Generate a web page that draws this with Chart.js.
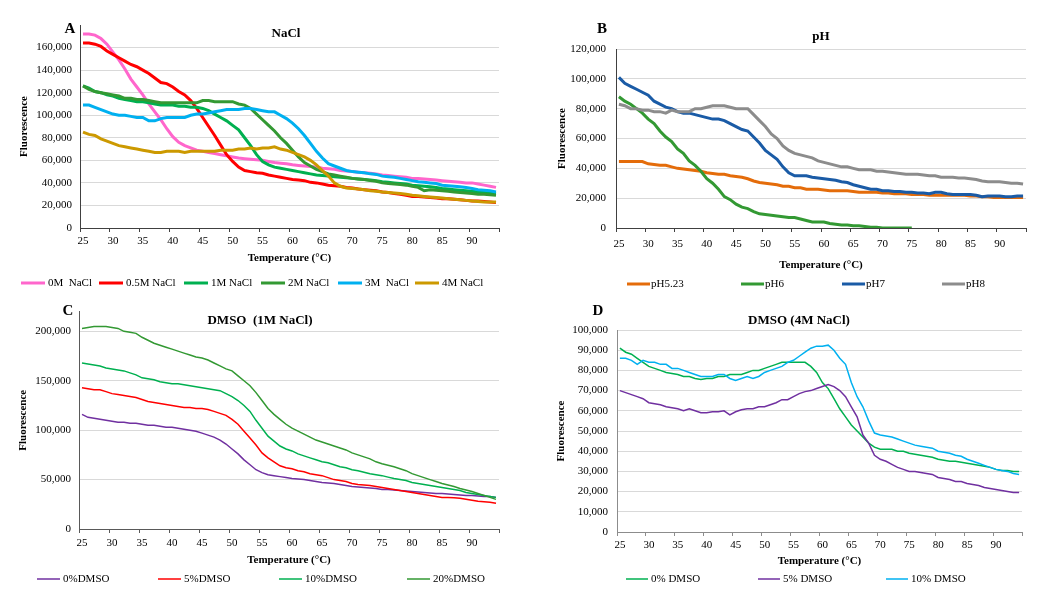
<!DOCTYPE html>
<html>
<head>
<meta charset="utf-8">
<title>Melt curves</title>
<script src="https://cdn.jsdelivr.net/npm/chart.js@4.4.0/dist/chart.umd.min.js"></script>
<style>
    body { margin: 0; background: #fff; }
    .panel { position: absolute; }
</style>
</head>
<body>
<div class="panel" style="left:0;top:0"><canvas id="chartA" width="523" height="297"></canvas></div>
<div class="panel" style="left:523px;top:0"><canvas id="chartB" width="524" height="297"></canvas></div>
<div class="panel" style="left:0;top:297px"><canvas id="chartC" width="523" height="302"></canvas></div>
<div class="panel" style="left:523px;top:297px"><canvas id="chartD" width="524" height="302"></canvas></div>
<script>
// Temperature categories (°C)
const temps = [25, 26, 27, 28, 29, 30, 31, 32, 33, 34, 35, 36, 37, 38, 39, 40, 41, 42, 43, 44,
    45, 46, 47, 48, 49, 50, 51, 52, 53, 54, 55, 56, 57, 58, 59, 60, 61, 62, 63, 64,
    65, 66, 67, 68, 69, 70, 71, 72, 73, 74, 75, 76, 77, 78, 79, 80, 81, 82, 83, 84,
    85, 86, 87, 88, 89, 90, 91, 92, 93, 94];
// Tick marks sit half a step before each label, like the Excel category axis
const xTickMarks = [24.5, 29.5, 34.5, 39.5, 44.5, 49.5, 54.5, 59.5, 64.5, 69.5, 74.5, 79.5, 84.5, 89.5, 94.5];
const xTickLabels = ['25', '30', '35', '40', '45', '50', '55', '60', '65', '70', '75', '80', '85', '90', ''];

// Fluorescence values, in thousands
// A - NaCl
const nacl0M = [172, 172, 171, 168, 163, 156, 149, 141, 132, 125, 118, 110, 103, 96, 88, 81, 76, 73, 71, 69,
    68, 67, 66, 65, 64, 63, 62, 61.5, 61, 60.5, 60, 59, 58, 57.5, 57, 56, 55.5, 55, 54.5, 54,
    53, 52.5, 52, 51, 50.5, 50, 49.5, 49, 48.5, 48, 47, 46.5, 46, 45.5, 45, 44, 44, 43.5, 43, 42.5,
    42, 41.5, 41, 40.5, 40, 40, 39, 38, 37, 36];
const nacl05M = [164, 164, 163, 161, 157, 154, 151, 148, 145, 143, 140, 137, 133, 129, 128, 125, 121, 118, 113, 106,
    98, 90, 82, 73.5, 65, 59, 54, 51, 50, 49, 48.5, 47, 46, 45, 44, 43, 42.5, 42, 40.5, 40,
    39, 38, 37.5, 37, 36, 35.5, 34.5, 34, 33.5, 33, 32, 31.5, 30.5, 30, 29, 28, 28, 27.5, 27, 26.5,
    26, 26, 25.5, 25, 24.5, 24, 24, 23.5, 23, 22.5];
const nacl1M = [126, 124, 121, 120, 118, 117, 115, 114, 113, 112, 112, 111, 110, 109, 109, 109, 108, 108, 107, 107,
    106, 104, 101, 98, 95, 91, 87, 80, 73, 65, 59, 56, 54, 53, 52, 51, 50, 49, 48, 47,
    46.5, 46, 45.5, 45, 44.5, 44, 43.5, 43, 42.5, 42, 41, 40.5, 40, 39.5, 39, 38, 37.5, 37, 36.5, 36,
    35, 34.5, 34, 33.5, 33, 32.5, 32, 31.5, 31, 30.5];
const nacl2M = [126, 123, 121, 120, 119, 118, 117, 115, 115, 114, 114, 113, 112, 111, 111, 111, 111, 111, 111, 111,
    113, 113, 112, 112, 112, 112, 110, 109, 106, 101, 96, 91, 86, 80, 75, 69, 63, 58, 55, 52,
    50, 48, 47, 46, 45, 44, 43.5, 43, 42, 41.5, 40, 39.5, 39, 38.5, 38, 37, 36, 33, 34, 33.5,
    33, 32.5, 32, 31.5, 31, 30.5, 30, 30, 29.5, 29];
const nacl3M = [109, 109, 107, 105, 103, 101, 100, 100, 99, 98, 98, 95, 95, 97, 98, 98, 98, 98, 100, 101,
    101, 102, 103, 104, 105, 105, 105, 106, 106, 105, 104, 103, 103, 100, 97, 93, 88, 82, 75, 68,
    62, 57, 55, 53, 51, 50, 49.5, 49, 48, 47.5, 46, 45.5, 45, 44, 43, 42, 41, 40.5, 40, 39.5,
    38, 37.5, 37, 36.5, 36, 35, 34, 33.5, 33, 32];
const nacl4M = [85, 83, 82, 79, 77, 75, 73, 72, 71, 70, 69, 68, 67, 67, 68, 68, 68, 67, 68, 68,
    68, 68, 68, 69, 69, 69, 70, 70, 71, 70, 71, 71, 72, 70, 69, 67, 65, 63, 60, 56,
    51, 46, 40, 37, 35.5, 35, 34.5, 34, 33, 32.5, 32, 31.5, 31, 30.5, 30, 29, 28.5, 28, 27.5, 27,
    26.5, 26, 25.5, 25, 24.5, 24, 23.5, 23, 23, 23];

// B - pH
const ph523 = [44.5, 44.5, 44.5, 44.5, 44.5, 43, 42.5, 42, 42, 41, 40, 39.5, 39, 38.5, 38, 37, 36.5, 36, 36, 35,
    34.5, 34, 33, 31.5, 30.5, 30, 29.5, 29, 28, 28, 27, 27, 26, 26, 26, 25.5, 25, 25, 25, 25,
    24.5, 24, 24, 24, 24, 23.5, 23.5, 23, 23, 23, 22.5, 22.5, 22.5, 22, 22, 22, 22, 22, 22, 22,
    21.5, 21.5, 21, 21, 20.5, 20.5, 20.5, 20.5, 20.5, 20.5];
const ph6 = [88, 85, 83, 80, 77, 73, 70, 65, 61, 58, 53, 50, 45, 42, 38, 33, 30, 26, 21, 19,
    16, 14, 13, 11, 9.5, 9, 8.5, 8, 7.5, 7, 7, 6, 5, 4, 4, 4, 3, 2.5, 2, 2,
    1.5, 1.5, 1, 0.5, 0.5, 0, 0, 0, 0, 0, 0, null, null, null, null, null, null, null, null, null,
    null, null, null, null, null, null, null, null, null, null];
const ph7 = [101, 97, 95, 93, 91, 89, 85, 83, 81, 80, 78, 77, 77, 76, 75, 74, 73, 73, 72, 70,
    68, 66, 65, 61, 57, 52, 49, 46, 41, 37, 35, 35, 35, 34, 33.5, 33, 32.5, 32, 31, 30.5,
    29, 28, 27, 26, 26, 25, 25, 24.5, 24.5, 24, 24, 23.5, 23.5, 23, 24, 24, 23, 22.5, 22.5, 22.5,
    22.5, 22, 21, 21.5, 21.5, 21.5, 21, 21, 21.5, 21.5];
const ph8 = [83, 82, 80, 80, 79, 79, 78, 78, 77, 79, 78, 78, 78, 80, 80, 81, 82, 82, 82, 81,
    80, 80, 80, 76, 72, 68, 63, 60, 55, 52, 50, 49, 48, 47, 45, 44, 43, 42, 41, 41,
    40, 39, 39, 39, 38, 38, 37.5, 37, 36.5, 36, 36, 36, 35.5, 35, 35, 34, 34, 34, 33.5, 33.5,
    33, 32.5, 31.5, 31, 31, 31, 30.5, 30, 30, 29.5];

// C - DMSO (1M NaCl)
const c_dmso0 = [116, 113, 112, 111, 110, 109, 108, 108, 107, 107, 106, 105, 105, 104, 103, 103, 102, 101, 100, 99,
    97, 95, 93, 90, 86, 81, 76, 70, 65, 60, 57, 55, 54, 53, 52, 51, 50.5, 50, 49, 48,
    47, 46.5, 46, 45, 44, 43, 42.5, 42, 41.5, 41, 40, 40, 39.5, 39, 38.5, 38, 37.5, 37, 36.5, 36,
    36, 35.5, 35, 34.5, 34, 34, 33.5, 33, 33, 32];
const c_dmso5 = [143, 142, 141, 141, 139, 137, 136, 135, 134, 133, 131, 129, 128, 127, 126, 125, 124, 123, 123, 122,
    122, 121, 119, 117, 115, 111, 106, 99, 92, 85, 77, 72, 68, 64, 62, 61, 59, 58, 56, 55,
    54, 52, 50, 49, 48, 46, 45, 44.5, 44, 43, 42, 41, 40, 39, 38, 37, 36, 35, 34, 33,
    32, 32, 31.5, 31, 30, 29, 28, 27.5, 27, 26];
const c_dmso10 = [168, 167, 166, 165, 163, 162, 161, 160, 158, 156, 153, 152, 151, 149, 148, 147, 147, 146, 145, 144,
    143, 142, 141, 140, 137, 134, 130, 125, 119, 110, 102, 94, 89, 84, 81, 79, 76, 74, 72, 70,
    68, 67, 65, 63, 62, 60, 59, 57.5, 56, 55, 54, 52.5, 51, 50, 49, 47, 46, 45, 44, 43,
    42, 41, 40, 39, 37, 36, 35, 34, 33, 32];
const c_dmso20 = [203, 204, 205, 205, 205, 204, 203, 200, 199, 198, 194, 191, 188, 186, 184, 182, 180, 178, 176, 174,
    173, 171, 168, 165, 162, 160, 155, 150, 145, 138, 130, 122, 116, 111, 106, 102, 99, 96, 93, 90,
    88, 86, 84, 82, 80, 77, 75, 73, 71, 68, 66, 64.5, 63, 61, 59, 56, 54, 52, 50, 48,
    46, 44.5, 43, 41, 39.5, 38, 36, 34, 32, 30];

// D - DMSO (4M NaCl)
const d_dmso0 = [91, 89, 88, 86, 84, 82, 81, 80, 79, 78.5, 78, 77, 77, 76, 75.5, 76, 76, 77, 77, 78,
    78, 78, 79, 80, 80, 81, 82, 83, 84, 84, 84, 84, 84, 82, 79, 74, 71, 66, 61, 57,
    53, 50, 47, 44, 42, 41, 41, 41, 40, 40, 39, 38.5, 38, 37.5, 37, 36, 35.5, 35, 35, 34.5,
    34, 33.5, 33, 32.5, 32, 31, 30.5, 30.5, 30, 30];
const d_dmso5 = [70, 69, 68, 67, 66, 64, 63.5, 63, 62, 61.5, 61, 60, 61, 60, 59, 59, 59.5, 59.5, 60, 58,
    59.5, 60.5, 61, 61, 62, 62, 63, 64, 65.5, 65.5, 67, 68.5, 69.5, 70, 71, 72, 73, 72, 70, 67,
    62, 57, 48, 44, 38, 36, 35, 33.5, 32, 31, 30, 30, 29.5, 29, 28.5, 27, 26.5, 26, 25, 25,
    24, 23.5, 23, 22, 21.5, 21, 20.5, 20, 19.5, 19.5];
const d_dmso10 = [86, 86, 85, 83, 85, 84, 84, 83, 83, 81, 81, 80, 79, 78, 77, 77, 77, 78, 78, 76,
    75, 76, 77, 76, 77, 79, 80, 81, 82, 84, 85, 87, 89, 91, 92, 92, 92.5, 90, 86, 83,
    74, 67, 62, 55, 49, 48, 47.5, 47, 46, 45, 44, 43, 42.5, 42, 41.5, 40, 39.5, 39, 38, 37.5,
    36, 35, 34, 33, 32, 31, 30.5, 30, 29, 28.5];

// Y axis ticks
const yTicksA = [0, 20000, 40000, 60000, 80000, 100000, 120000, 140000, 160000];
const yTicksB = [0, 20000, 40000, 60000, 80000, 100000, 120000];
const yTicksC = [0, 50000, 100000, 150000, 200000];
const yTicksD = [0, 10000, 20000, 30000, 40000, 50000, 60000, 70000, 80000, 90000, 100000];

const gridColor = '#d9d9d9';
const serif = '"Liberation Serif", "Times New Roman", serif';

Chart.defaults.font.family = serif;
Chart.defaults.color = '#000';

// Legend drawn in evenly spread columns like the original
const spreadLegend = {
    id: 'spreadLegend',
    afterDraw(chart, args, opts) {
        const ctx = chart.ctx;
        ctx.save();
        ctx.font = '11px ' + serif;
        ctx.textBaseline = 'middle';
        ctx.textAlign = 'left';
        chart.data.datasets.forEach((ds, i) => {
            const x = opts.xs[i];
            ctx.strokeStyle = ds.borderColor;
            ctx.lineWidth = opts.lineWidth;
            ctx.beginPath();
            ctx.moveTo(x, opts.y);
            ctx.lineTo(x + opts.lineLen, opts.y);
            ctx.stroke();
            ctx.fillStyle = '#000';
            ctx.fillText(ds.label, x + opts.lineLen + opts.gap, opts.y);
        });
        ctx.restore();
    }
};

// Panel letter and chart title
const panelText = {
    id: 'panelText',
    afterDraw(chart, args, opts) {
        const ctx = chart.ctx;
        ctx.save();
        ctx.fillStyle = '#000';
        ctx.textAlign = 'center';
        ctx.textBaseline = 'middle';
        ctx.font = 'bold 15px ' + serif;
        ctx.fillText(opts.letter, opts.letterX, opts.letterY);
        ctx.font = 'bold 13px ' + serif;
        ctx.fillText(opts.title, opts.titleX, opts.titleY);
        ctx.restore();
    }
};

function toPoints(values) {
    return temps.map((t, i) => ({ x: t, y: values[i] == null ? null : values[i] * 1000 }));
}

function buildDatasets(series, width) {
    return series.map((s, i) => ({
        label: s.label,
        data: toPoints(s.values),
        borderColor: s.color,
        backgroundColor: s.color,
        borderWidth: width,
        pointRadius: 0,
        tension: 0,
        spanGaps: false,
        order: -i
    }));
}

function createPanel(id, p) {
    const ctx = document.getElementById(id);
    new Chart(ctx, {
        type: 'line',
        data: { datasets: buildDatasets(p.series, p.lineWidth) },
        plugins: [spreadLegend, panelText],
        options: {
            responsive: false,
            animation: false,
            layout: { padding: { left: 0, top: p.top, right: p.right, bottom: 0 } },
            plugins: {
                legend: { display: false },
                tooltip: { enabled: false },
                spreadLegend: p.legend,
                panelText: p.text
            },
            scales: {
                x: {
                    type: 'linear',
                    min: 24.5,
                    max: 94.5,
                    afterBuildTicks: s => { s.ticks = xTickMarks.map(v => ({ value: v })); },
                    afterFit: s => { s.height = p.xHeight; },
                    grid: { drawOnChartArea: false, tickLength: 4, color: p.axisColor },
                    border: { color: p.axisColor },
                    ticks: {
                        padding: p.xPad, maxRotation: 0, autoSkip: false, labelOffset: 3, font: { size: 11 },
                        callback: (v, i) => xTickLabels[i]
                    },
                    title: { display: true, text: 'Temperature (°C)', font: { size: 11, weight: 'bold' }, padding: { top: 0, bottom: p.xTitlePad } }
                },
                y: {
                    min: 0,
                    max: p.yMax,
                    afterBuildTicks: s => { s.ticks = p.yTicks.map(v => ({ value: v })); },
                    afterFit: s => { s.width = p.yWidth; },
                    grid: { color: gridColor, drawTicks: false },
                    border: { color: p.axisColor },
                    ticks: { padding: p.yPad, font: { size: 11 }, callback: v => v.toLocaleString('en-US') },
                    title: { display: true, text: 'Fluorescence', font: { size: 11, weight: 'bold' }, padding: { top: p.yTitlePad, bottom: 0 } }
                }
            }
        }
    });
}

document.addEventListener('DOMContentLoaded', () => {
    createPanel('chartA', {
        series: [
            { label: '0M  NaCl', values: nacl0M, color: '#ff66cc' },
            { label: '0.5M NaCl', values: nacl05M, color: '#ff0000' },
            { label: '1M NaCl', values: nacl1M, color: '#00b050' },
            { label: '2M NaCl', values: nacl2M, color: '#339933' },
            { label: '3M  NaCl', values: nacl3M, color: '#00b0f0' },
            { label: '4M NaCl', values: nacl4M, color: '#cc9900' }
        ],
        lineWidth: 3, yMax: 180000, yTicks: yTicksA, axisColor: '#404040',
        top: 25, right: 24, xHeight: 69, yWidth: 80, xPad: 3, yPad: 8, xTitlePad: 32, yTitlePad: 18,
        legend: { xs: [21, 99, 184, 261, 338, 415], y: 283, lineLen: 24, gap: 3, lineWidth: 3 },
        text: { letter: 'A', letterX: 70, letterY: 29, title: 'NaCl', titleX: 286, titleY: 34 }
    });

    createPanel('chartB', {
        series: [
            { label: 'pH5.23', values: ph523, color: '#e46c0a' },
            { label: 'pH6', values: ph6, color: '#339933' },
            { label: 'pH7', values: ph7, color: '#1a5ba6' },
            { label: 'pH8', values: ph8, color: '#8c8c8c' }
        ],
        lineWidth: 3, yMax: 120000, yTicks: yTicksB, axisColor: '#404040',
        top: 49, right: 21, xHeight: 69, yWidth: 93, xPad: 6, yPad: 10, xTitlePad: 25, yTitlePad: 33,
        legend: { xs: [104, 218, 319, 419], y: 284, lineLen: 23, gap: 1, lineWidth: 3 },
        text: { letter: 'B', letterX: 79, letterY: 29, title: 'pH', titleX: 298, titleY: 37 }
    });

    createPanel('chartC', {
        series: [
            { label: '0%DMSO', values: c_dmso0, color: '#7030a0' },
            { label: '5%DMSO', values: c_dmso5, color: '#ff0000' },
            { label: '10%DMSO', values: c_dmso10, color: '#00b050' },
            { label: '20%DMSO', values: c_dmso20, color: '#339933' }
        ],
        lineWidth: 1.5, yMax: 220000, yTicks: yTicksC, axisColor: '#595959',
        top: 13, right: 24, xHeight: 70, yWidth: 79, xPad: 4, yPad: 8, xTitlePad: 32, yTitlePad: 17,
        legend: { xs: [37, 158, 279, 407], y: 282, lineLen: 23, gap: 3, lineWidth: 1.5 },
        text: { letter: 'C', letterX: 68, letterY: 14, title: 'DMSO  (1M NaCl)', titleX: 260, titleY: 24 }
    });

    createPanel('chartD', {
        series: [
            { label: '0% DMSO', values: d_dmso0, color: '#00b050' },
            { label: '5% DMSO', values: d_dmso5, color: '#7030a0' },
            { label: '10% DMSO', values: d_dmso10, color: '#00b0f0' }
        ],
        lineWidth: 1.5, yMax: 100000, yTicks: yTicksD, axisColor: '#8c8c8c',
        top: 33, right: 25, xHeight: 67, yWidth: 94, xPad: 3, yPad: 9, xTitlePad: 31, yTitlePad: 32,
        legend: { xs: [103, 235, 363], y: 282, lineLen: 22, gap: 3, lineWidth: 1.5 },
        text: { letter: 'D', letterX: 75, letterY: 14, title: 'DMSO (4M NaCl)', titleX: 276, titleY: 24 }
    });
});
</script>
</body>
</html>
